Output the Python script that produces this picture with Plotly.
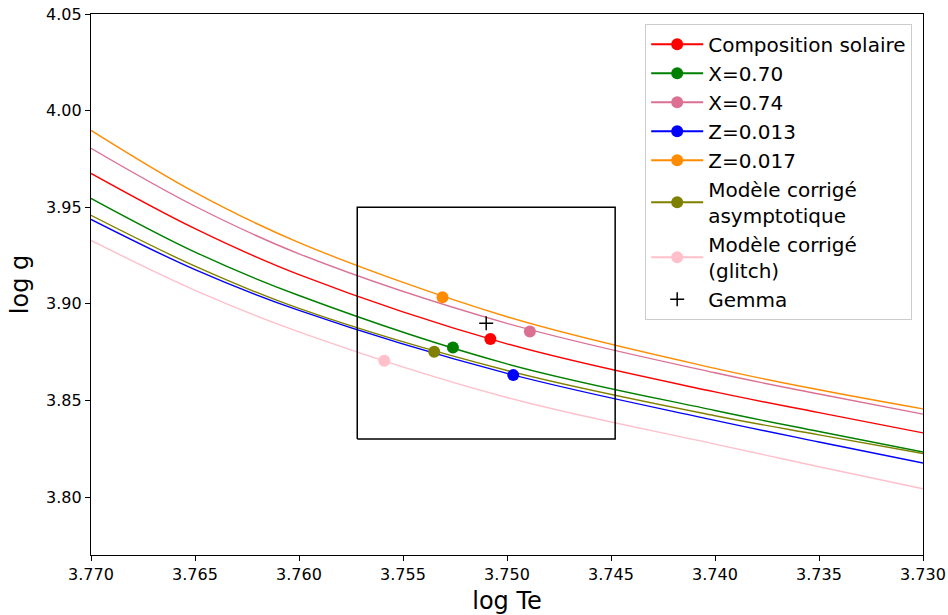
import plotly.graph_objects as go

# Te grid (log Te) at which curves were read
logTe = [3.770, 3.765, 3.760, 3.750, 3.740, 3.735, 3.730]

names = ["Composition solaire", "X=0.70", "X=0.74", "Z=0.013", "Z=0.017",
         "Modèle corrigé<br>asymptotique", "Modèle corrigé<br>(glitch)"]
colors = ["#ff0000", "#008000", "#db7093", "#0000ff", "#ff8c00", "#808000", "#ffc0cb"]

logg_solar = [3.9675, 3.9389, 3.9151, 3.8793, 3.8544, 3.8437, 3.8332]
logg_X070 = [3.9546, 3.9268, 3.9043, 3.8689, 3.8448, 3.8339, 3.8233]
logg_X074 = [3.9805, 3.9505, 3.9259, 3.8899, 3.8643, 3.8533, 3.8429]
logg_Z013 = [3.9437, 3.9177, 3.8966, 3.8640, 3.8397, 3.8285, 3.8176]
logg_Z017 = [3.9898, 3.9577, 3.9317, 3.8933, 3.8666, 3.8555, 3.8456]
logg_asym = [3.9458, 3.9195, 3.8976, 3.8655, 3.8421, 3.8322, 3.8225]
logg_glitch = [3.9328, 3.9070, 3.8855, 3.8515, 3.8274, 3.8157, 3.8043]
curves = [logg_solar, logg_X070, logg_X074, logg_Z013, logg_Z017, logg_asym, logg_glitch]

# best models (marker points)
best_Te = [3.7508, 3.7526, 3.7489, 3.7497, 3.7531, 3.7535, 3.7559]
best_g = [3.8818, 3.8774, 3.8857, 3.8631, 3.9034, 3.8752, 3.8705]

# Gemma observation and error box
gemma_Te = [3.751]
gemma_g = [3.890]
box_Te = [3.7572, 3.7448, 3.7448, 3.7572, 3.7572]
box_g = [3.83, 3.83, 3.95, 3.95, 3.83]

x_ticks = [3.770, 3.765, 3.760, 3.755, 3.750, 3.745, 3.740, 3.735, 3.730]
y_ticks = [3.80, 3.85, 3.90, 3.95, 4.00, 4.05]

fig = go.Figure()

for y, c in zip(curves, colors):
    fig.add_trace(go.Scatter(x=logTe, y=y, mode="lines",
                             line=dict(color=c, width=1.4, shape="spline"),
                             showlegend=False, hoverinfo="skip"))

fig.add_trace(go.Scatter(x=box_Te, y=box_g, mode="lines",
                         line=dict(color="black", width=1.5),
                         showlegend=False, hoverinfo="skip"))

for n, c, xt, yg in zip(names, colors, best_Te, best_g):
    fig.add_trace(go.Scatter(x=[xt], y=[yg], mode="lines+markers", name=n,
                             line=dict(color=c, width=2),
                             marker=dict(color=c, size=12)))

fig.add_trace(go.Scatter(x=gemma_Te, y=gemma_g, mode="markers", name="Gemma",
                         marker=dict(symbol="cross-thin", size=10, color="black",
                                     line=dict(color="black", width=1.5))))

axis_common = dict(showgrid=False, zeroline=False, showline=True, linecolor="black",
                   linewidth=1.2, mirror=True, ticks="outside", ticklen=5,
                   tickcolor="black", tickfont=dict(size=16, color="black"),
                   automargin=False)

fig.update_xaxes(range=[3.770, 3.730], tickvals=x_ticks,
                 ticktext=[f"{v:.3f}" for v in x_ticks],
                 title=dict(text="log Te", font=dict(size=24, color="black"), standoff=8),
                 **axis_common)
fig.update_yaxes(range=[3.77, 4.05], tickvals=y_ticks,
                 ticktext=[f"{v:.2f}" for v in y_ticks],
                 title=dict(text="log g", font=dict(size=24, color="black"), standoff=10),
                 **axis_common)

fig.update_layout(
    width=948, height=615,
    margin=dict(l=91, r=25, t=14, b=60),
    plot_bgcolor="white", paper_bgcolor="white",
    font=dict(family="DejaVu Sans", color="black"),
    legend=dict(x=0.987, y=0.982, xanchor="right", yanchor="top",
                bgcolor="rgba(255,255,255,0.8)", bordercolor="#cccccc", borderwidth=1,
                font=dict(size=20, color="black"), tracegroupgap=0, itemwidth=52),
)

fig.write_html("out.html")
